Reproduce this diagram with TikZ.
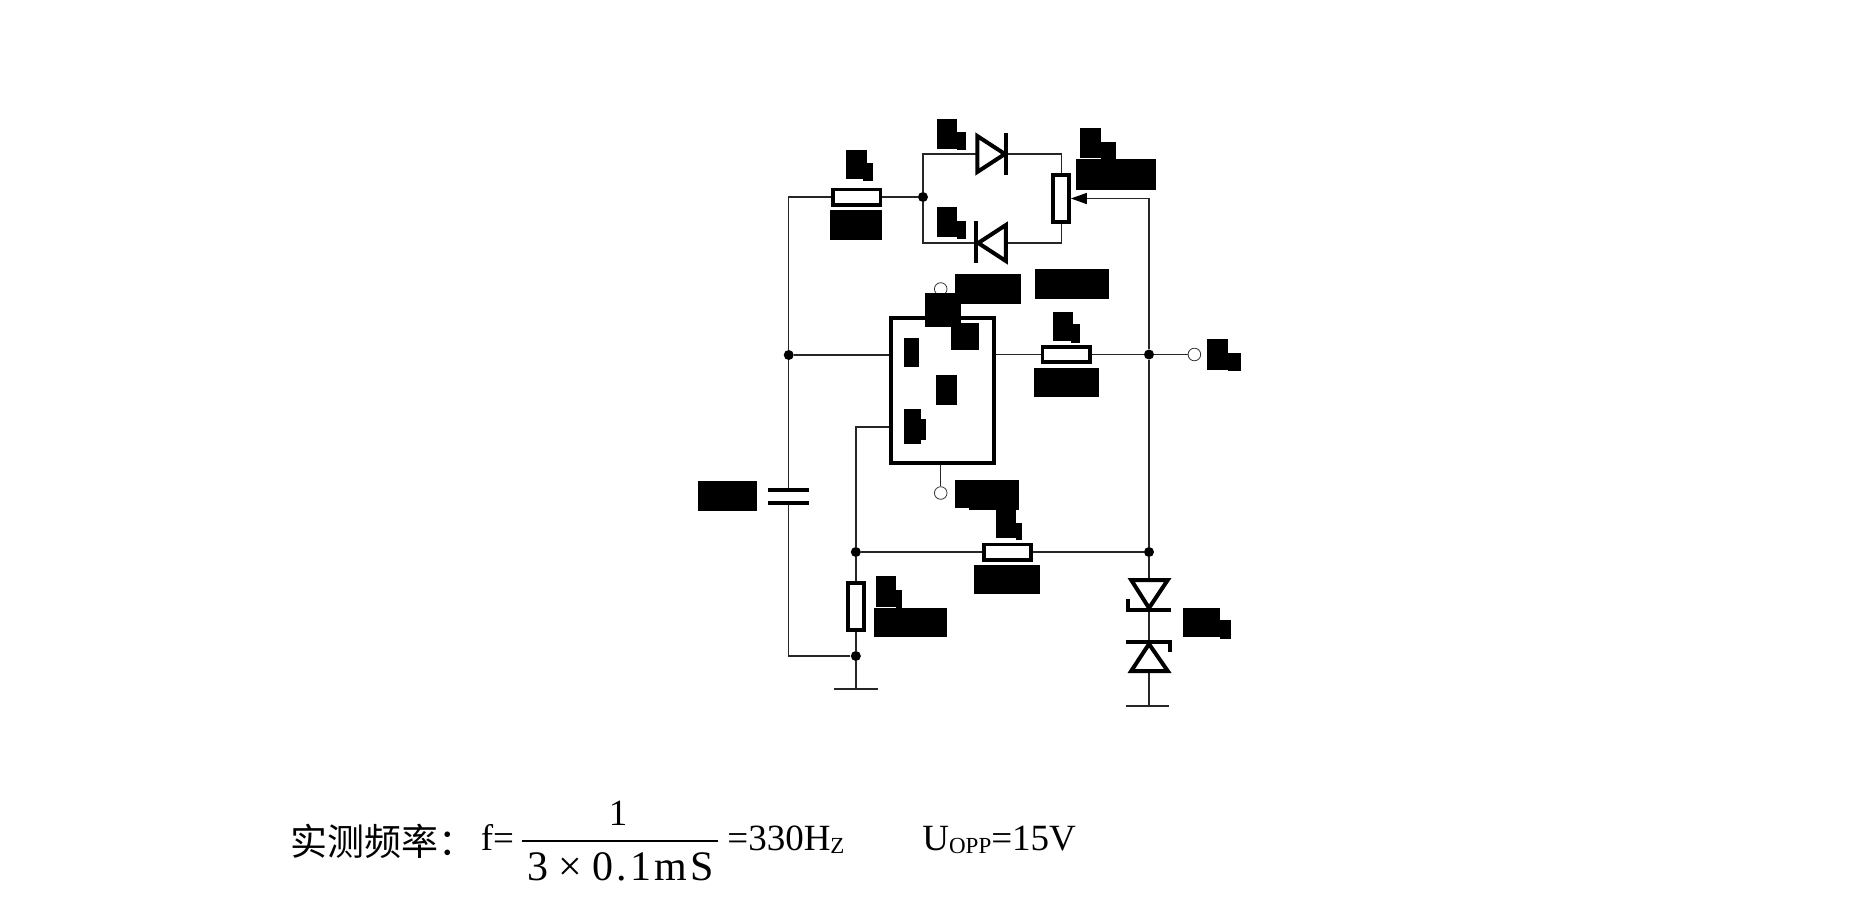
\documentclass[tikz,border=0pt]{standalone}
\usepackage{fontspec}
\setmainfont{Liberation Serif}
\newfontfamily\cjk{Noto Sans CJK SC}
\newfontfamily\denfont[LetterSpace=7.5]{Liberation Serif}
\usetikzlibrary{arrows.meta}
\tikzset{
  wire/.style={line width=0.65pt,black!85},
  sym/.style={line width=2pt,line join=miter},
  dot/.style={circle,fill=black,inner sep=0pt,minimum size=5pt},
  open/.style={circle,draw=black!80,line width=0.4pt,inner sep=0pt,minimum size=6.3pt},
  fuseh/.style={draw,line width=1.9pt,inner sep=0pt,minimum width=23.6pt,minimum height=7.6pt},
  fusev/.style={draw,line width=1.9pt,inner sep=0pt,minimum width=7.8pt,minimum height=23.6pt},
  txt/.style={inner sep=0pt,anchor=base west,font=\fontsize{18.5}{20}\selectfont}
}
\newcommand{\lowtxt}[1]{\raisebox{-1.5pt}{\fontsize{11.5}{12}\selectfont #1}}
\begin{document}
\begin{tikzpicture}[x=0.5pt,y=-0.5pt]
  \useasboundingbox (0,0) rectangle (1863,900);
  \begin{scope}[xshift=4.5pt,x=0.4935pt]
  % junctions
  \node[dot] (jtop) at (926,197) {};
  \node[dot] (jleft) at (790,355) {};
  \node[dot] (jright) at (1155,354.5) {};
  \node[dot] (jfb) at (858,552) {};
  \node[dot] (jzen) at (1155,552) {};
  \node[dot] (jgnd) at (858,656) {};
  % resistors and the chip
  \node[fuseh] (rin) at (859,197) {};
  \node[fuseh] (rout) at (1071,354.5) {};
  \node[fuseh] (rfb) at (1011.5,552) {};
  \node[fusev] (rlow) at (858,606.5) {};
  \node[fusev] (pot) at (1066,198.5) {};
  \node[draw,line width=2.2pt,inner sep=0pt,minimum width=51.5pt,minimum height=72.5pt] (ic) at (945.5,390.5) {};
  % pins
  \node[open] (pintop) at (944,289) {};
  \node[open] (pinlow) at (944,493) {};
  \node[open] (pinout) at (1201,354.5) {};
  % corners and symbol ends
  \coordinate (cin) at (790,197);
  \coordinate (cup) at (926,154);
  \coordinate (cdn) at (926,243);
  \coordinate (potup) at (1066,154);
  \coordinate (potdn) at (1066,243);
  \coordinate (wiper) at (1155,198.5);
  \coordinate (fbc) at (858,427);
  \coordinate (capa) at (790,490);
  \coordinate (capb) at (790,503);
  \coordinate (capc) at (790,656);
  \coordinate (dua) at (980,154);
  \coordinate (duc) at (1010,154);
  \coordinate (dlc) at (980,243);
  \coordinate (dla) at (1011,243);
  \coordinate (zua) at (1155,580);
  \coordinate (zuc) at (1155,609);
  \coordinate (zlc) at (1155,642);
  \coordinate (zla) at (1155,671);
  \coordinate (gndl) at (858,689);
  \coordinate (gndr) at (1155,706);
  % wires
  \draw[wire] (jleft) -- (cin) -- (rin);
  \draw[wire] (rin) -- (jtop);
  \draw[wire] (jtop) -- (cup) -- (dua);
  \draw[wire] (jtop) -- (cdn) -- (dlc);
  \draw[wire] (duc) -- (potup) -- (pot);
  \draw[wire] (dla) -- (potdn) -- (pot);
  \draw[wire,-{Triangle[length=8pt,width=5.5pt,color=black]}] (jright) -- (wiper) -- (pot);
  \draw[wire] (jleft) -- (jleft -| ic.west);
  \draw[wire] (ic.east |- rout) -- (rout);
  \draw[wire] (rout) -- (jright);
  \draw[wire] (jright) -- (pinout);
  \draw[wire] (jright) -- (jzen);
  \draw[wire] (pintop) -- (pintop |- ic.north);
  \draw[wire] (pinlow |- ic.south) -- (pinlow);
  \draw[wire] (fbc -| ic.west) -- (fbc) -- (jfb);
  \draw[wire] (jfb) -- (rfb);
  \draw[wire] (rfb) -- (jzen);
  \draw[wire] (jfb) -- (rlow);
  \draw[wire] (rlow) -- (jgnd);
  \draw[wire] (jgnd) -- (gndl);
  \draw[wire] (jleft) -- (capa);
  \draw[wire] (capb) -- (capc) -- (jgnd);
  \draw[wire] (jzen) -- (zua);
  \draw[wire] (zuc) -- (zlc);
  \draw[wire] (zla) -- (gndr);
  % grounds
  \draw[wire,line width=0.9pt] ([xshift=-11pt]gndl) -- ([xshift=11pt]gndl);
  \draw[wire,line width=0.9pt] ([xshift=-11.5pt]gndr) -- ([xshift=10pt]gndr);
  % capacitor
  \draw[line width=2pt] ([xshift=-10.5pt]capa) -- ([xshift=10pt]capa);
  \draw[line width=2pt] ([xshift=-10.5pt]capb) -- ([xshift=10pt]capb);
  % diodes
  \draw[sym] (981,136) -- (1009,154) -- (981,172) -- cycle;
  \draw[sym] (1010,133) -- (1010,175);
  \draw[sym] (1010,225) -- (982,243) -- (1010,261) -- cycle;
  \draw[sym] (980,221) -- (980,263);
  % zeners
  \draw[sym] (1137,580) -- (1174,580) -- (1155,608) -- cycle;
  \draw[sym] (1134,599) -- (1134,610) -- (1177,610);
  \draw[sym] (1137,671) -- (1174,671) -- (1155,644) -- cycle;
  \draw[sym] (1132,642) -- (1176,642) -- (1176,652);
  % covered labels
  \fill (848,150) rectangle (869,179);
  \fill (865,163) rectangle (875,181);
  \fill (832,210) rectangle (884,240);
  \fill (940,119) rectangle (960,149);
  \fill (960,132) rectangle (970,150);
  \fill (940,207) rectangle (960,237);
  \fill (960,221) rectangle (970,239);
  \fill (1085,128) rectangle (1106,158);
  \fill (1106,142) rectangle (1122,160);
  \fill (1081,159) rectangle (1162,190);
  \fill (958,274) rectangle (1025,304);
  \fill (928,293) rectangle (965,327);
  \fill (954,323) rectangle (983,350);
  \fill (1039,269) rectangle (1114,299);
  \fill (1058,312) rectangle (1078,341);
  \fill (1076,324) rectangle (1085,343);
  \fill (1038,368) rectangle (1104,397);
  \fill (1214,339) rectangle (1235,370);
  \fill (1235,353) rectangle (1248,371);
  \fill (907,338) rectangle (922,367);
  \fill (939,375) rectangle (960,405);
  \fill (907,409) rectangle (924,444);
  \fill (924,419) rectangle (929,440);
  \fill (698,481) rectangle (758,511);
  \fill (958,480) rectangle (1023,508);
  \fill (973,508) rectangle (1023,510);
  \fill (1000,510) rectangle (1020,538);
  \fill (1020,523) rectangle (1026,540);
  \fill (978,565) rectangle (1045,594);
  \fill (878,576) rectangle (899,607);
  \fill (899,590) rectangle (905,608);
  \fill (876,608) rectangle (950,637);
  \fill (1189,608) rectangle (1227,637);
  \fill (1227,620) rectangle (1238,639);
  \end{scope}
  % formula
  \node[txt] (title) at (289.6,855) {\cjk 实测频率：};
  \node[txt] (feq) at (480.5,850) {f=};
  \node[txt,anchor=base] (num) at (618,825) {1};
  \coordinate (barl) at (521.5,841);
  \coordinate (barr) at (717.5,841);
  \draw[line width=1pt] (barl) -- (barr);
  \node[txt,anchor=base,font=\fontsize{21}{22}\selectfont] (den) at (620.7,880) {\denfont 3\kern5pt×\kern5pt0.1mS};
  \node[txt] (res) at (727,850) {=330H\lowtxt{Z}};
  \node[txt] (upp) at (922,850) {U\lowtxt{OPP}=15V};
\end{tikzpicture}
\end{document}
